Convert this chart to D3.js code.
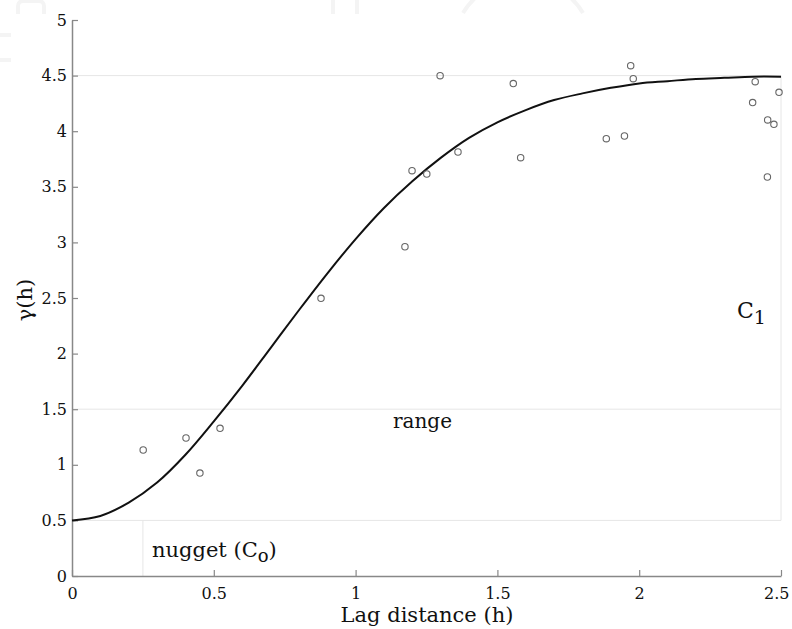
<!DOCTYPE html>
<html>
<head>
<meta charset="utf-8">
<script src="https://cdn.jsdelivr.net/npm/d3@7"></script>
<style>
  html, body { margin: 0; padding: 0; background: #fff; }
  svg { display: block; }
  text { font-family: "DejaVu Serif", "Liberation Serif", serif; fill: #111; }
</style>
</head>
<body>
<svg id="chart" width="792" height="629"></svg>
<script>
// Experimental semivariogram points (lag h, gamma)
const lagH   = [0.251, 0.402, 0.451, 0.522, 0.878, 1.174, 1.199, 1.251, 1.298, 1.361, 1.556, 1.582, 1.884, 1.948, 1.970, 1.979, 2.400, 2.409, 2.452, 2.453, 2.475, 2.493];
const gammaH = [1.133, 1.241, 0.926, 1.328, 2.497, 2.961, 3.645, 3.615, 4.499, 3.813, 4.428, 3.762, 3.933, 3.957, 4.589, 4.472, 4.257, 4.445, 3.588, 4.101, 4.062, 4.350];

// Fitted model curve
const curveH = [0, 0.1, 0.2, 0.3, 0.4, 0.5, 0.6, 0.7, 0.8, 0.9, 1.0, 1.1, 1.2, 1.3, 1.4, 1.5, 1.6, 1.7, 1.8, 1.9, 2.0, 2.1, 2.2, 2.3, 2.4, 2.5];
const curveG = [0.50, 0.54, 0.66, 0.84, 1.09, 1.39, 1.71, 2.05, 2.39, 2.72, 3.03, 3.31, 3.55, 3.76, 3.94, 4.08, 4.19, 4.28, 4.34, 4.39, 4.43, 4.45, 4.47, 4.48, 4.49, 4.49];

// Ticks
const xTicks = [0, 0.5, 1, 1.5, 2, 2.5];
const yTicks = [0, 0.5, 1, 1.5, 2, 2.5, 3, 3.5, 4, 4.5, 5];
const xTickLabels = ["0", "0.5", "1", "1.5", "2", "2.5"];
const yTickLabels = ["0", "0.5", "1", "1.5", "2", "2.5", "3", "3.5", "4", "4.5", "5"];

// Annotation levels
const nugget = 0.5, sill = 4.5, rangeLevel = 1.5, nuggetMarkH = 0.25;

const svg = d3.select("#chart");
const x = d3.scaleLinear().domain([0, 2.5]).range([72, 781]);
const y = d3.scaleLinear().domain([0, 5]).range([576, 20]);

// faint watermark shapes
const wm = svg.append("g").attr("fill", "none").attr("stroke", "#f4f4f4").attr("stroke-width", 4);
wm.append("path").attr("d", "M18,14 v-8 a5,5 0 0 1 5,-5 h16 a5,5 0 0 1 5,5 v8");
wm.append("path").attr("d", "M0,35 h11 M0,60 h11");
wm.append("path").attr("d", "M333,14 v-14 M357,14 v-14");
wm.append("path").attr("d", "M463,13 A70,70 0 0 1 583,13");

// faint guide lines
const guide = svg.append("g").attr("stroke", "#e6e6e6").attr("stroke-width", 1).attr("fill", "none");
[sill, rangeLevel, nugget].forEach(v => {
  guide.append("line").attr("x1", x(0)).attr("x2", x(2.5)).attr("y1", y(v)).attr("y2", y(v));
});
guide.append("line").attr("x1", x(2.5)).attr("x2", x(2.5)).attr("y1", y(nugget)).attr("y2", y(sill));
guide.append("line").attr("x1", x(nuggetMarkH)).attr("x2", x(nuggetMarkH)).attr("y1", y(0)).attr("y2", y(nugget));

// axes
const xAxis = d3.axisBottom(x).tickValues(xTicks).tickFormat((d, i) => xTickLabels[i]).tickSizeInner(-6).tickSizeOuter(0).tickPadding(12);
const yAxis = d3.axisLeft(y).tickValues(yTicks).tickFormat((d, i) => yTickLabels[i]).tickSizeInner(-6).tickSizeOuter(0).tickPadding(5);

const gx = svg.append("g").attr("transform", `translate(0,${y(0)})`).call(xAxis);
const gy = svg.append("g").attr("transform", `translate(${x(0)},0)`).call(yAxis);
[gx, gy].forEach(g => {
  g.select(".domain").attr("stroke", "#888").attr("stroke-width", 1.5);
  g.selectAll(".tick line").attr("stroke", "#888").attr("stroke-width", 1.2);
  g.selectAll(".tick text").attr("font-family", "'DejaVu Serif', serif").attr("font-size", 16).attr("fill", "#111");
});
// keep the last x tick label inside the page
gx.selectAll(".tick text").filter((d) => d === 2.5).attr("text-anchor", "end").attr("dx", 8);

// model curve
const line = d3.line().x((d, i) => x(curveH[i])).y((d, i) => y(curveG[i])).curve(d3.curveCatmullRom.alpha(0.5));
svg.append("path").datum(curveG).attr("d", line).attr("fill", "none").attr("stroke", "#111").attr("stroke-width", 2);

// points
svg.append("g").selectAll("circle").data(lagH).join("circle")
  .attr("cx", (d) => x(d)).attr("cy", (d, i) => y(gammaH[i])).attr("r", 3.2)
  .attr("fill", "none").attr("stroke", "#666").attr("stroke-width", 1.1);

// annotations
svg.append("text").attr("x", 152).attr("y", 557).attr("font-size", 21)
  .html('nugget (C<tspan font-size="18" dy="5">o</tspan><tspan dy="-5">)</tspan>');
svg.append("text").attr("x", 393).attr("y", 428).attr("font-size", 20).text("range");
svg.append("text").attr("x", 737).attr("y", 318).attr("font-size", 22)
  .html('C<tspan font-size="19" dy="6">1</tspan>');

// axis labels
svg.append("text").attr("x", 427).attr("y", 622).attr("text-anchor", "middle").attr("font-size", 21).text("Lag distance (h)");
svg.append("text").attr("transform", "translate(32,300) rotate(-90)").attr("text-anchor", "middle").attr("font-size", 21).text("γ(h)");
</script>
</body>
</html>
